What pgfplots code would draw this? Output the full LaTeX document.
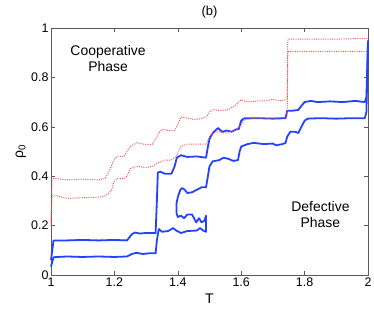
\documentclass[border=0pt]{standalone}
\usepackage{fontspec}
\setmainfont{Liberation Sans}
\usepackage{pgfplots}
\pgfplotsset{compat=1.18}
\definecolor{mblue}{RGB}{35,65,255}
\definecolor{mred}{RGB}{255,80,80}
\begin{document}
\begin{tikzpicture}
\begin{axis}[
  at={(0,0)}, anchor=south west,
  scale only axis, width=317bp, height=247bp,
  xmin=1, xmax=2, ymin=0, ymax=1,
  xtick={1,1.2,...,2}, ytick={0,0.2,...,1},
  xticklabels={1,1.2,1.4,1.6,1.8,2},
  yticklabels={0,0.2,0.4,0.6,0.8,1},
  tick align=inside, major tick length=4bp,
  xtick pos=both, ytick pos=both,
  /pgf/number format/assume math mode=true,
  tick label style={font=\fontsize{12.5}{14}\selectfont},
  xticklabel style={yshift=1bp},
  yticklabel style={xshift=1bp},
  axis line style={gray!70!black, line width=0.6pt},
  every tick/.style={gray!70!black, line width=0.5pt},
  clip=false,
]
% upper blue
\addplot[mblue, line width=1.8pt, line join=round] coordinates {
(1.0,0.06) (1.008,0.14) (1.05,0.14) (1.1,0.142) (1.15,0.14) (1.2,0.142) (1.24,0.14) (1.255,0.165) (1.265,0.172) (1.28,0.168) (1.3,0.17) (1.33,0.17) (1.334,0.30) (1.337,0.415) (1.345,0.418) (1.36,0.41) (1.38,0.41) (1.39,0.44) (1.397,0.475) (1.41,0.485) (1.43,0.478) (1.46,0.48) (1.489,0.475) (1.495,0.52) (1.50,0.55) (1.51,0.575) (1.527,0.595) (1.54,0.58) (1.555,0.585) (1.57,0.58) (1.585,0.59) (1.592,0.59) (1.60,0.625) (1.61,0.635) (1.65,0.635) (1.70,0.633) (1.74,0.635) (1.745,0.665) (1.76,0.665) (1.78,0.668) (1.79,0.685) (1.80,0.70) (1.82,0.705) (1.84,0.70) (1.88,0.703) (1.92,0.70) (1.96,0.705) (1.99,0.70) (1.995,0.72) (2.0,0.95)
};
% lower blue
\addplot[mblue, line width=1.8pt, line join=round] coordinates {
(1.0,0.034) (1.008,0.072) (1.05,0.075) (1.1,0.073) (1.15,0.075) (1.2,0.073) (1.24,0.075) (1.255,0.085) (1.27,0.09) (1.29,0.085) (1.31,0.088) (1.33,0.088) (1.334,0.14) (1.34,0.186) (1.35,0.175) (1.37,0.178) (1.385,0.19) (1.395,0.18) (1.41,0.17) (1.43,0.178) (1.46,0.18) (1.47,0.19) (1.48,0.18) (1.489,0.175) (1.489,0.24) (1.484,0.22) (1.475,0.213) (1.467,0.23) (1.458,0.213) (1.445,0.245) (1.43,0.245) (1.42,0.23) (1.41,0.24) (1.40,0.235) (1.396,0.25) (1.396,0.29) (1.40,0.315) (1.408,0.345) (1.414,0.352) (1.422,0.345) (1.43,0.332) (1.445,0.335) (1.46,0.345) (1.475,0.355) (1.489,0.355) (1.495,0.40) (1.50,0.44) (1.51,0.46) (1.53,0.465) (1.545,0.475) (1.56,0.47) (1.575,0.462) (1.59,0.465) (1.595,0.50) (1.60,0.52) (1.62,0.53) (1.64,0.535) (1.67,0.53) (1.70,0.532) (1.71,0.525) (1.73,0.53) (1.74,0.535) (1.745,0.56) (1.755,0.58) (1.77,0.58) (1.78,0.575) (1.79,0.60) (1.80,0.625) (1.81,0.633) (1.85,0.635) (1.9,0.633) (1.95,0.635) (1.99,0.635) (1.995,0.66) (2.0,0.94)
};
% upper red
\addplot[mred, line width=1pt, dash pattern=on 1pt off 1.3pt] coordinates {
(1.0,0.2) (1.003,0.39) (1.02,0.39) (1.05,0.385) (1.1,0.388) (1.15,0.385) (1.17,0.39) (1.18,0.41) (1.19,0.44) (1.20,0.47) (1.21,0.48) (1.23,0.48) (1.24,0.50) (1.25,0.52) (1.27,0.535) (1.29,0.53) (1.31,0.528) (1.32,0.53) (1.33,0.55) (1.34,0.575) (1.35,0.59) (1.37,0.585) (1.39,0.585) (1.40,0.61) (1.41,0.64) (1.43,0.635) (1.45,0.63) (1.47,0.632) (1.49,0.64) (1.50,0.66) (1.51,0.67) (1.54,0.665) (1.56,0.67) (1.58,0.685) (1.60,0.71) (1.62,0.70) (1.65,0.705) (1.68,0.705) (1.70,0.712) (1.72,0.705) (1.745,0.71) (1.747,0.955) (1.8,0.955) (1.9,0.955) (2.0,0.958)
};
% lower red
\addplot[mred, line width=1pt, dash pattern=on 1pt off 1.3pt] coordinates {
(1.0,0.2) (1.003,0.32) (1.02,0.32) (1.05,0.31) (1.1,0.313) (1.15,0.315) (1.17,0.32) (1.19,0.34) (1.20,0.38) (1.21,0.39) (1.23,0.39) (1.24,0.40) (1.25,0.43) (1.27,0.44) (1.30,0.435) (1.32,0.44) (1.34,0.455) (1.36,0.465) (1.38,0.465) (1.395,0.48) (1.41,0.52) (1.43,0.53) (1.46,0.53) (1.49,0.53) (1.50,0.56) (1.51,0.575) (1.53,0.58) (1.55,0.575) (1.58,0.585) (1.60,0.61) (1.61,0.63) (1.65,0.635) (1.70,0.635) (1.745,0.64) (1.747,0.905) (1.8,0.905) (1.9,0.905) (2.0,0.905)
};
\node[font=\fontsize{14}{16}\selectfont, align=center] at (axis cs:1.18,0.875) {Cooperative\\Phase};
\node[font=\fontsize{14}{16}\selectfont, align=center] at (axis cs:1.85,0.243) {Defective\\Phase};
\node[font=\fontsize{13}{15}\selectfont] at (axis cs:1.5,1.065) {(b)};
\node[font=\fontsize{14}{16}\selectfont] at (axis cs:1.5,-0.095) {T};
\node[font=\fontsize{14}{16}\selectfont, rotate=90] at (axis cs:0.905,0.5) {ρ\textsubscript{0}};
\end{axis}
\pgfresetboundingbox
\path (-51bp,-34bp) rectangle (323bp,275bp);
\end{tikzpicture}
\end{document}
